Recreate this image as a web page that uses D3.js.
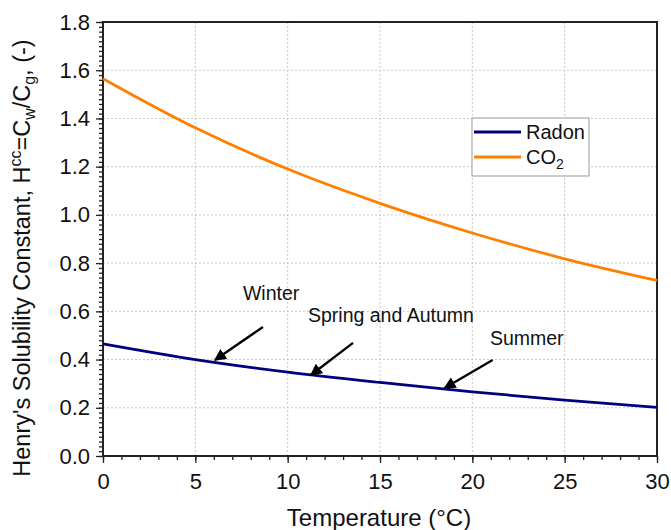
<!DOCTYPE html>
<html><head><meta charset="utf-8">
<script src="https://cdn.jsdelivr.net/npm/d3@7"></script>
<style>body{margin:0;background:#fff;} svg{display:block;font-family:"Liberation Sans",Arial,sans-serif;}</style>
</head><body><svg id="c" width="671" height="530"></svg>
<script>
const temps = [0, 5, 10, 15, 20, 25, 30];
const radon = [0.465, 0.400, 0.348, 0.305, 0.266, 0.232, 0.202];
const co2 = [1.565, 1.361, 1.190, 1.048, 0.925, 0.818, 0.728];
const xTicks = [0, 5, 10, 15, 20, 25, 30];
const yTicks = [0, 0.2, 0.4, 0.6, 0.8, 1.0, 1.2, 1.4, 1.6, 1.8];
const notes = ["Winter", "Spring and Autumn", "Summer"];
const noteX = [7.58, 11.1, 20.95];
const noteY = [0.647, 0.556, 0.46];
const arrowFromX = [8.66, 13.54, 21.1];
const arrowFromY = [0.535, 0.469, 0.398];
const arrowToX = [6.06, 11.26, 18.5];
const arrowToY = [0.398, 0.336, 0.282];

const svg = d3.select("#c");
const L = 103, R = 657, T = 22, B = 456;
const x = d3.scaleLinear().domain([0, 30]).range([L, R]);
const y = d3.scaleLinear().domain([0, 1.8]).range([B, T]);

svg.append("defs").append("marker").attr("id","ah").attr("viewBox","0 0 10 10")
  .attr("refX",9).attr("refY",5).attr("markerWidth",5).attr("markerHeight",5)
  .attr("markerUnits","strokeWidth").attr("orient","auto")
  .append("path").attr("d","M0,0 L10,5 L0,10 Z").attr("fill","#000");

// grid
const g = svg.append("g");
g.selectAll(".gx").data(xTicks.slice(1, -1)).join("line")
  .attr("x1", d => x(d)).attr("x2", d => x(d)).attr("y1", T).attr("y2", B)
  .attr("stroke", "#c8c8c8").attr("stroke-width", 1).attr("stroke-dasharray", "2,2");
g.selectAll(".gy").data(yTicks.slice(1, -1)).join("line")
  .attr("y1", d => y(d)).attr("y2", d => y(d)).attr("x1", L).attr("x2", R)
  .attr("stroke", "#c8c8c8").attr("stroke-width", 1).attr("stroke-dasharray", "2,2");

// axes
const xAxis = svg.append("g").attr("transform", `translate(0,${B})`)
  .call(d3.axisBottom(x).tickValues(xTicks).tickSize(7).tickPadding(10).tickFormat(d3.format("d")));
const xMinor = svg.append("g").attr("transform", `translate(0,${B})`)
  .call(d3.axisBottom(x).tickValues(d3.range(0, 31, 1)).tickSize(4).tickFormat(""));
const yAxis = svg.append("g").attr("transform", `translate(${L},0)`)
  .call(d3.axisLeft(y).tickValues(yTicks).tickSize(7).tickPadding(6).tickFormat(d3.format(".1f")));
const yMinor = svg.append("g").attr("transform", `translate(${L},0)`)
  .call(d3.axisLeft(y).tickValues(d3.range(0, 91).map(i => i * 0.02)).tickSize(4).tickFormat(""));
[xAxis, xMinor, yAxis, yMinor].forEach(a => {
  a.select(".domain").remove();
  a.selectAll("line").attr("stroke", "#222").attr("stroke-width", 1.3);
  a.selectAll("text").attr("font-size", 22).attr("fill", "#111")
    .attr("font-family", '"Liberation Sans",Arial,sans-serif');
});

// frame
svg.append("rect").attr("x", L).attr("y", T).attr("width", R - L).attr("height", B - T)
  .attr("fill", "none").attr("stroke", "#222").attr("stroke-width", 2);

// lines
const line = d3.line().x((d, i) => x(temps[i])).y(d => y(d)).curve(d3.curveMonotoneX);
svg.append("path").datum(co2).attr("d", line).attr("fill", "none")
  .attr("stroke", "#ff8000").attr("stroke-width", 2.8);
svg.append("path").datum(radon).attr("d", line).attr("fill", "none")
  .attr("stroke", "#00007f").attr("stroke-width", 2.8);

// annotations
notes.forEach((n, i) => {
  svg.append("text").attr("x", x(noteX[i])).attr("y", y(noteY[i]))
    .attr("font-size", 19.5).attr("fill", "#111").text(n);
  svg.append("line").attr("x1", x(arrowFromX[i])).attr("y1", y(arrowFromY[i]))
    .attr("x2", x(arrowToX[i])).attr("y2", y(arrowToY[i]))
    .attr("stroke", "#000").attr("stroke-width", 2.4).attr("marker-end", "url(#ah)");
});

// legend
const lg = svg.append("g");
lg.append("rect").attr("x", 472).attr("y", 118).attr("width", 117).attr("height", 58)
  .attr("fill", "#fff").attr("stroke", "#999").attr("stroke-width", 1);
const legNames = ["Radon", "CO2"];
const legColors = ["#00007f", "#ff8000"];
legNames.forEach((n, i) => {
  const yy = 132 + i * 25;
  lg.append("line").attr("x1", 474).attr("x2", 521).attr("y1", yy).attr("y2", yy)
    .attr("stroke", legColors[i]).attr("stroke-width", 2.8);
  const t = lg.append("text").attr("x", 526).attr("y", yy + 7).attr("font-size", 20).attr("fill", "#111");
  if (n === "CO2") {
    t.append("tspan").text("CO");
    t.append("tspan").attr("font-size", 14).attr("dy", 5).text("2");
  } else t.text(n);
});

// axis titles
svg.append("text").attr("x", (L + R) / 2 - 1).attr("y", 526).attr("text-anchor", "middle")
  .attr("font-size", 24).attr("fill", "#111").text("Temperature (°C)");
const yt = svg.append("text").attr("transform", `translate(30,258) rotate(-90)`)
  .attr("text-anchor", "middle").attr("font-size", 23.5).attr("fill", "#111");
yt.append("tspan").text("Henry's Solubility Constant, H");
yt.append("tspan").attr("font-size", 16).attr("dy", -9).text("cc");
yt.append("tspan").attr("dy", 9).text("=C");
yt.append("tspan").attr("font-size", 16).attr("dy", 5).text("w");
yt.append("tspan").attr("dy", -5).text("/C");
yt.append("tspan").attr("font-size", 16).attr("dy", 5).text("g");
yt.append("tspan").attr("dy", -5).text(", (-)");
</script></body></html>
